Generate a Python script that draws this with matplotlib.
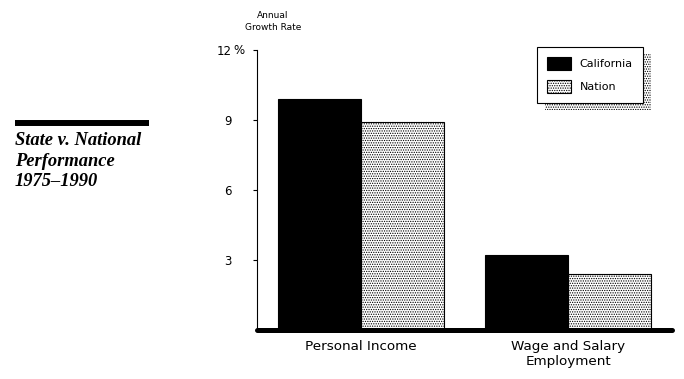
import matplotlib
matplotlib.use("Agg")
import matplotlib.pyplot as plt
import numpy as np

categories = ["Personal Income", "Wage and Salary\nEmployment"]
california = [9.9, 3.2]
nation = [8.9, 2.4]
yticks = [3, 6, 9, 12]
series_names = ["California", "Nation"]

plt.rcParams['font.family'] = ['DejaVu Sans']
plt.rcParams['hatch.linewidth'] = 0.6

W, H = 684, 379
fig = plt.figure(figsize=(W/100, H/100), dpi=100)
ax = fig.add_axes([257/W, (H-330)/H, 415/W, 280/H])

x = np.arange(len(categories))
w = 0.40
ax.bar(x - w/2, california, w, color='black', edgecolor='black', linewidth=0.8, label=series_names[0])
ax.bar(x + w/2, nation, w, facecolor='white', edgecolor='black', hatch='.......',
       linewidth=0.8, label=series_names[1])

ax.set_xlim(-0.5, 1.5)
ax.set_ylim(0, 12)
ax.set_yticks(yticks)
ax.set_yticklabels([str(v) for v in yticks], fontsize=8.5)
ax.tick_params(axis='y', length=3, width=0.8, pad=15, direction='out')
ax.annotate('%', xy=(0, 12), xycoords=('axes fraction', 'data'), xytext=(-17, 0),
            textcoords='offset points', ha='left', va='center', fontsize=8.5)
ax.set_xticks(x)
ax.set_xticklabels(categories, fontsize=9.7, linespacing=1.2)
ax.tick_params(axis='x', length=0, pad=7)

for s in ['top', 'right']:
    ax.spines[s].set_visible(False)
ax.spines['left'].set_linewidth(0.8)
ax.spines['bottom'].set_linewidth(3.6)
ax.spines['bottom'].set_capstyle('round')

ax.text(273/W, 1 - 15/H, "Annual", transform=fig.transFigure, ha='center', va='center', fontsize=6.5)
ax.text(273/W, 1 - 28/H, "Growth Rate", transform=fig.transFigure, ha='center', va='center', fontsize=6.5)

leg = ax.legend(loc='upper right', bbox_to_anchor=((643-257)/415, (330-47)/280), borderaxespad=0,
                fancybox=False, edgecolor='black', framealpha=1, fontsize=8,
                handlelength=2.2, handleheight=1.45, handletextpad=0.8, borderpad=0.9,
                labelspacing=0.85,
                shadow={'ox': 5.8, 'oy': -5.3, 'facecolor': 'white', 'edgecolor': 'black',
                        'hatch': '.......', 'alpha': 1, 'linewidth': 0})
leg.get_frame().set_linewidth(0.8)

# left title block
fig.add_artist(plt.Line2D([15/W, 149/W], [1 - 123/H, 1 - 123/H], color='black', linewidth=4.3,
                          solid_capstyle='butt', transform=fig.transFigure))
for i, line in enumerate(["State v. National", "Performance", "1975\u20131990"]):
    fig.text(15/W, 1 - (145 + 20.5*i)/H, line, ha='left', va='baseline',
             family=['Liberation Serif', 'DejaVu Serif'], fontweight='bold', fontstyle='italic', fontsize=13.3)

fig.savefig("out.png", dpi=100)
